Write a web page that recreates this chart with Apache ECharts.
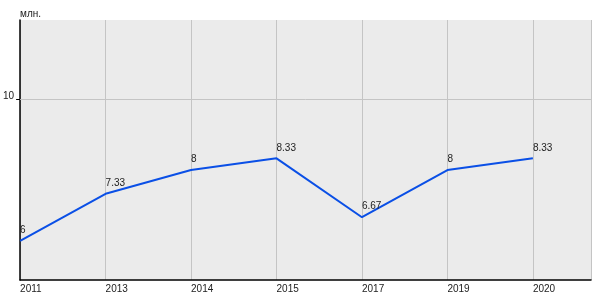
<!DOCTYPE html>
<html><head><meta charset="utf-8">
<script src="https://cdn.jsdelivr.net/npm/echarts@6/dist/echarts.min.js"></script>
<style>html,body{margin:0;padding:0;background:#fff}#c{width:600px;height:300px}</style>
</head><body><div id="c"></div>
<script>
var years = ['2011','2013','2014','2015','2017','2019','2020'];
var values = [6, 7.33, 8, 8.33, 6.67, 8, 8.33];
var labels = ['6','7.33','8','8.33','6.67','8','8.33'];
var yTicks = [10];
var unit = 'млн.';

var chart = echarts.init(document.getElementById('c'), null, {renderer:'canvas'});
var font = 'Liberation Sans, Arial, sans-serif';
chart.setOption({
  animation:false,
  backgroundColor:'#fff',
  title:{text:unit,left:20,top:9,padding:0,textStyle:{fontSize:10,fontWeight:'normal',color:'#222',fontFamily:font}},
  grid:{left:20,right:9,top:20,bottom:20,show:true,backgroundColor:'#ebebeb',borderWidth:0},
  xAxis:{type:'value',min:0,max:6.68,interval:1,
    axisLine:{show:true,onZero:false,lineStyle:{color:'#000',width:1.5}},
    axisTick:{show:false},
    axisLabel:{show:true,showMaxLabel:false,align:'left',margin:4,fontSize:10,color:'#222',fontFamily:font,
      formatter:function(v){var i=Math.round(v);return (Math.abs(v-i)<1e-6 && years[i])?years[i]:'';}},
    splitLine:{show:true,lineStyle:{color:'#c4c4c4',width:1}}
  },
  yAxis:{type:'value',min:4.9,max:12.23,
    axisLine:{show:true,onZero:false,lineStyle:{color:'#000',width:1.5}},
    axisTick:{show:true,length:4,customValues:yTicks,lineStyle:{color:'#000'}},
    axisLabel:{show:true,customValues:yTicks,margin:6,fontSize:10,color:'#222',fontFamily:font,verticalAlign:'bottom',padding:[0,0,-2,0]},
    splitLine:{show:false}
  },
  series:[{
    type:'line',
    data:values.map(function(v,i){return [i,v];}),
    symbol:'circle',
    symbolSize:1,
    showSymbol:true,
    itemStyle:{color:'rgba(0,0,0,0)'},
    lineStyle:{color:'#0a4fe6',width:2},
    label:{show:true,position:'top',align:'left',offset:[-1,0],fontSize:10,color:'#222',fontFamily:font,
      formatter:function(p){return labels[p.dataIndex];}},
    labelLayout:{hideOverlap:false},
    markLine:{silent:true,symbol:'none',label:{show:false},
      lineStyle:{color:'#c4c4c4',width:1,type:'solid'},
      data:yTicks.map(function(t){return {yAxis:t};})}
  }]
});
</script></body></html>
